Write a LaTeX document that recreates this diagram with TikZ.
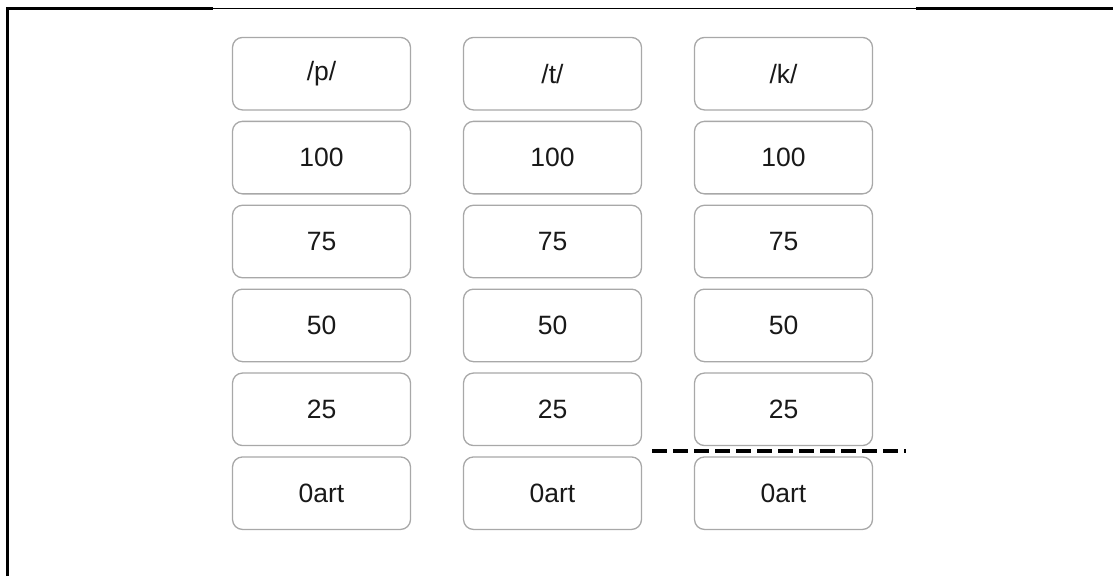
\documentclass[tikz,border=0pt]{standalone}
\usepackage{fontspec}
\setmainfont{Liberation Sans}
\definecolor{boxline}{RGB}{168,168,168}
\definecolor{boxtext}{RGB}{25,25,25}
\begin{document}
\begin{tikzpicture}[x=1pt,y=-1pt,
  cell/.style={draw=boxline, line width=1.3pt, rounded corners=10pt,
    minimum width=178pt, minimum height=72.5pt, inner sep=0pt,
    text=boxtext, font=\fontsize{26.5}{30}\selectfont},
  frameline/.style={line width=3pt},
  cutline/.style={line width=4.5pt, dash pattern=on 15pt off 6pt}]
  \useasboundingbox (0,0) rectangle (1113,576);

  % frame: left side and top edge
  \coordinate (fl) at (7,576);
  \coordinate (ftl) at (7,8.5);
  \coordinate (fa) at (213,8.5);
  \coordinate (fb) at (213,8);
  \coordinate (fc) at (916,8);
  \coordinate (fd) at (916,8.5);
  \coordinate (fr) at (1113,8.5);
  \draw[frameline] (fl) -- (ftl) -- (fa);
  \draw[line width=1pt] (fb) -- (fc);
  \draw[frameline] (fd) -- (fr);

  % three columns of cells
  \foreach \c/\x/\h in {p/321.5/{/p/}, t/552.5/{/t/}, k/783.5/{/k/}} {
    \node[cell] (\c0) at (\x,73.7) {\h};
    \node[cell] (\c1) at (\x,157.6) {100};
    \node[cell] (\c2) at (\x,241.5) {75};
    \node[cell] (\c3) at (\x,325.4) {50};
    \node[cell] (\c4) at (\x,409.3) {25};
    \node[cell] (\c5) at (\x,493.2) {0art};
  }

  % dashed cut between the last two /k/ cells
  \coordinate (cutA) at (652,451);
  \coordinate (cutB) at (906,451);
  \draw[cutline] (cutA) -- (cutB);
\end{tikzpicture}
\end{document}
